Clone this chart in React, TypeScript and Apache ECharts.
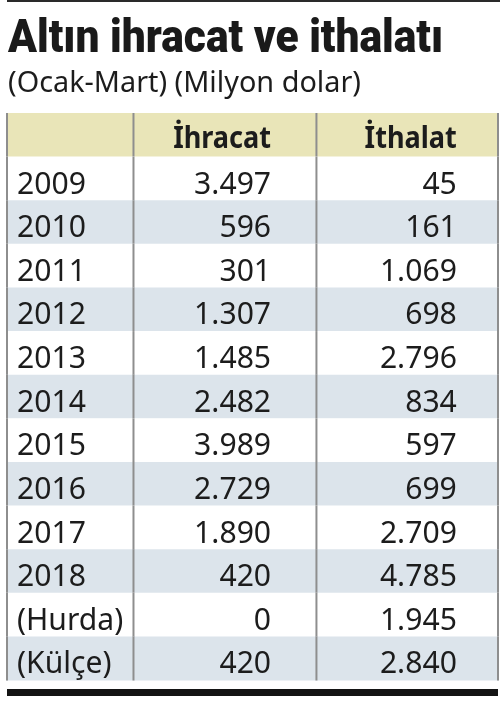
import React, { useEffect, useRef } from "react";
import * as echarts from "echarts";

const titleText = "Altın ihracat ve ithalatı";
const subtitleText = "(Ocak-Mart) (Milyon dolar)";
const columnHeaders = ["", "İhracat", "İthalat"];
const rowLabels = ["2009", "2010", "2011", "2012", "2013", "2014", "2015", "2016", "2017", "2018", "(Hurda)", "(Külçe)"];
const exportValues = [3497, 596, 301, 1307, 1485, 2482, 3989, 2729, 1890, 420, 0, 420];
const importValues = [45, 161, 1069, 698, 2796, 834, 597, 699, 2709, 4785, 1945, 2840];

const fmt = (v: number) => String(v).replace(/\B(?=(\d{3})+(?!\d))/g, ".");

function measure(text: string, font: string) {
  const ctx = document.createElement("canvas").getContext("2d")!;
  ctx.font = font;
  return ctx.measureText(text).width;
}

export default function App() {
  const ref = useRef<HTMLDivElement>(null);
  useEffect(() => {
    document.body.style.margin = "0";
    const chart = echarts.init(ref.current!, undefined, { renderer: "svg" });

    const titleFont = { size: 47, weight: 900, family: "Roboto" };
    const subFont = { size: 29, weight: 400, family: "Noto Sans" };
    const cellFont = { size: 31, weight: 400, family: "Noto Sans" };
    const headFont = { size: 30, weight: 700, family: "Noto Sans" };
    const f = (o: any) => `${o.weight} ${o.size}px "${o.family}"`;

    const titleScale = 435 / measure(titleText, f(titleFont));
    const subScale = 353 / measure(subtitleText, f(subFont));
    const cellScale = 77 / measure("3.497", f(cellFont));
    const headScale = 98 / measure("İhracat", f(headFont));

    const categories = ["header", ...rowLabels];
    const data = categories.map((_, i) => [0, i]);

    const colRight1 = 0.5377; // fraction of table width
    const colRight2 = 0.9145;
    const colLine1 = 0.2586;
    const colLine2 = 0.6297;

    const textEl = (text: string, x: number, y: number, align: string, font: any, scale: number) => ({
      type: "text",
      x,
      y,
      scaleX: scale,
      style: {
        text,
        align,
        verticalAlign: "middle",
        fontSize: font.size,
        fontWeight: font.weight,
        fontFamily: font.family,
        fill: "#1c1c1c",
      },
    });

    chart.setOption({
      animation: false,
      grid: { left: 6, right: 1, top: 113, bottom: 21 },
      xAxis: { type: "value", min: 0, max: 1, show: false },
      yAxis: { type: "category", data: categories, inverse: true, show: false },
      series: [
        {
          type: "custom",
          data,
          renderItem: (params: any, api: any) => {
            const i = api.value(1);
            const p = api.coord([0, i]);
            const h = api.size([0, 1])[1];
            const cs = params.coordSys;
            const top = p[1] - h / 2;
            const fill = i === 0 ? "#e9e5b8" : i % 2 === 0 ? "#dce4eb" : "#ffffff";
            const ty = p[1] + 3;
            const children: any[] = [
              { type: "rect", shape: { x: cs.x, y: top, width: cs.width, height: h + 0.5 }, style: { fill } },
            ];
            if (i === 0) {
              children.push(textEl(columnHeaders[1], cs.x + colRight1 * cs.width, p[1] + 1, "right", headFont, headScale));
              children.push(textEl(columnHeaders[2], cs.x + colRight2 * cs.width, p[1] + 1, "right", headFont, headScale));
            } else {
              const k = i - 1;
              children.push(textEl(rowLabels[k], cs.x + 11, ty, "left", cellFont, cellScale));
              children.push(textEl(fmt(exportValues[k]), cs.x + colRight1 * cs.width, ty, "right", cellFont, cellScale));
              children.push(textEl(fmt(importValues[k]), cs.x + colRight2 * cs.width, ty, "right", cellFont, cellScale));
            }
            const xs = [cs.x + 1, cs.x + colLine1 * cs.width, cs.x + colLine2 * cs.width, cs.x + cs.width - 1];
            xs.forEach((x) =>
              children.push({
                type: "line",
                shape: { x1: x, y1: top, x2: x, y2: top + h + 0.5 },
                style: { stroke: "#8e8e8e", lineWidth: 2 },
              })
            );
            return { type: "group", children };
          },
        },
      ],
      graphic: [
        { type: "rect", shape: { x: 7, y: 0, width: 493, height: 2 }, style: { fill: "#2a2a2a" } },
        {
          type: "text",
          x: 8,
          y: 36,
          scaleX: titleScale,
          style: {
            text: titleText,
            verticalAlign: "middle",
            fontSize: titleFont.size,
            fontWeight: titleFont.weight,
            fontFamily: titleFont.family,
            fill: "#1a1a1a",
          },
        },
        {
          type: "text",
          x: 8,
          y: 80,
          scaleX: subScale,
          style: {
            text: subtitleText,
            verticalAlign: "middle",
            fontSize: subFont.size,
            fontWeight: subFont.weight,
            fontFamily: subFont.family,
            fill: "#1c1c1c",
          },
        },
        { type: "rect", shape: { x: 7, y: 689, width: 491, height: 7 }, style: { fill: "#141414" } },
      ],
    });
    return () => chart.dispose();
  }, []);
  return <div ref={ref} style={{ position: "fixed", left: 0, top: 0, width: 500, height: 701 }} />;
}
